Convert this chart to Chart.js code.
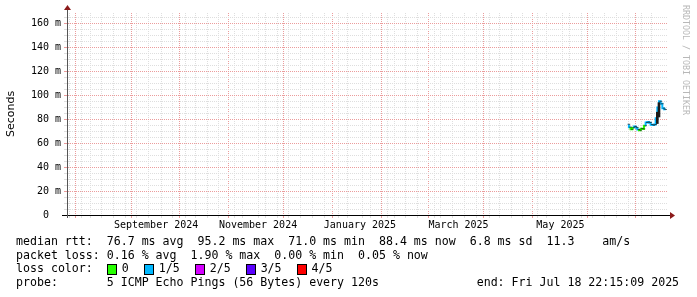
<!DOCTYPE html>
<html>
<head>
<meta charset="utf-8">
<script src="https://cdn.jsdelivr.net/npm/chart.js@4.4.1/dist/chart.umd.min.js"></script>
<style>
  body { margin: 0; background: #fff; }
  #wrap { position: relative; width: 697px; height: 297px; overflow: hidden; }
  #chart { position: absolute; left: 0; top: 0; }
  .legend {
    position: absolute; left: 16px; top: 235px;
    font: 11.6px 'DejaVu Sans Mono', monospace; line-height: 13.7px; color: #000;
  }
  .row { height: 13.7px; display: flex; align-items: center; white-space: pre; }
  .box { display: inline-block; width: 8px; height: 9px; border: 1px solid #000; margin-right: 5px; }
  .lbl { margin-right: 15px; }
  .mark {
    position: absolute; left: 681px; top: 5px;
    writing-mode: vertical-rl; font: 8.3px 'DejaVu Sans Mono', monospace; color: #b8b8b8;
  }
</style>
</head>
<body>
<div id="wrap">
  <canvas id="chart" width="697" height="297"></canvas>
  <div class="legend"><div class="row">median rtt:  76.7 ms avg  95.2 ms max  71.0 ms min  88.4 ms now  6.8 ms sd  11.3    am/s</div><div class="row">packet loss: 0.16 % avg  1.90 % max  0.00 % min  0.05 % now</div><div class="row" id="lossRow"><span>loss color:  </span></div><div class="row">probe:       5 ICMP Echo Pings (56 Bytes) every 120s              end: Fri Jul 18 22:15:09 2025</div></div>
  <div class="mark">RRDTOOL / TOBI OETIKER</div>
</div>
<script>
// ─── DATA ───────────────────────────────────────────────────────
const pingDates = [
  "2025-06-26", "2025-06-27", "2025-06-28", "2025-06-29", "2025-06-30",
  "2025-07-01", "2025-07-02", "2025-07-03", "2025-07-04", "2025-07-05",
  "2025-07-06", "2025-07-07", "2025-07-08", "2025-07-09", "2025-07-10",
  "2025-07-11", "2025-07-12", "2025-07-13", "2025-07-14", "2025-07-15",
  "2025-07-16", "2025-07-17", "2025-07-18",
];
// median rtt, ms
const medianRtt = [
  76.0, 73.5, 71.8, 73.0, 74.0,
  73.0, 71.6, 71.0, 72.2, 72.0,
  74.6, 77.4, 77.8, 77.2, 75.6,
  75.2, 75.8, 81.0, 90.0, 95.2,
  93.0, 89.4, 88.4,
];
// lost pings out of 5
const lossCount = [
  1, 0, 0, 1, 1,
  1, 0, 0, 0, 0,
  1, 1, 1, 1, 1,
  1, 1, 1, 1, 1,
  1, 1, 1,
];
// smoke (spread of the pings), ms
const smokeLow = [
  76.0, 73.5, 71.8, 73.0, 74.0,
  73.0, 71.6, 71.0, 72.2, 72.0,
  74.6, 77.4, 77.8, 77.2, 75.6,
  75.2, 75.8, 76.5, 82.0, 95.2,
  93.0, 89.4, 88.4,
];
const smokeHigh = [
  76.0, 73.5, 71.8, 73.0, 74.0,
  73.0, 71.6, 71.0, 72.2, 72.0,
  74.6, 77.4, 77.8, 77.2, 75.6,
  75.2, 75.8, 86.0, 94.0, 95.2,
  93.0, 89.4, 88.4,
];
const lossLabels = ["0", "1/5", "2/5", "3/5", "4/5"];
const lossColors = ["#26ff00", "#00b8ff", "#d400ff", "#5a00ff", "#ff0000"];
const monthLabels = ["September 2024", "November 2024", "January 2025", "March 2025", "May 2025"];
const labelMonths = ["2024-09", "2024-11", "2025-01", "2025-03", "2025-05"];

// ─── HELPERS ────────────────────────────────────────────────────
const ORIGIN = Date.UTC(2024, 7, 1);
const dayOf = s => (Date.parse(s + "T00:00:00Z") - ORIGIN) / 864e5;

const X_MIN = -7.36, X_MAX = 352.4;
const Y_MAX = 169;

const C = {
  minor: "#dedede",
  major: "#eb9c9c",
  arrow: "#8b1a1a",
  yAxis: "#555555",
};

// x ticks: weekly minor grid, monthly major grid, month labels on the 16th
const xTicks = [];
for (let d = dayOf("2024-07-28"); d <= X_MAX; d += 7) xTicks.push({ value: d, kind: "minor" });
for (let i = 0; i < 12; i++) {
  const d = (Date.UTC(2024, 7 + i, 1) - ORIGIN) / 864e5;
  if (d >= X_MIN && d <= X_MAX) xTicks.push({ value: d, kind: "major" });
}
labelMonths.forEach((m, i) => xTicks.push({ value: dayOf(m + "-16"), kind: "label", text: monthLabels[i] }));
xTicks.sort((a, b) => a.value - b.value);

const yTicks = [];
for (let v = 0; v < Y_MAX; v += 5) yTicks.push({ value: v, kind: v % 20 === 0 ? "major" : "minor" });

const gridColor = ctx => {
  const k = ctx.tick && ctx.tick.kind;
  return k === "major" ? C.major : k === "minor" ? C.minor : "rgba(0,0,0,0)";
};

// loss colour legend row
const lossRow = document.getElementById("lossRow");
lossLabels.forEach((l, i) => {
  const b = document.createElement("span");
  b.className = "box"; b.style.background = lossColors[i];
  const t = document.createElement("span");
  t.className = "lbl"; t.textContent = l;
  lossRow.append(b, t);
});

const axisArrows = {
  id: "axisArrows",
  afterDraw(chart) {
    const { ctx, chartArea: a } = chart;
    const x0 = Math.round(a.left - 0.5) + 0.5;
    const y0 = Math.round(a.bottom - 0.5) + 0.5;
    ctx.save();
    ctx.strokeStyle = C.yAxis; ctx.lineWidth = 1;
    ctx.beginPath(); ctx.moveTo(x0, a.top); ctx.lineTo(x0, a.top - 4); ctx.stroke();
    ctx.beginPath(); ctx.moveTo(x0, a.bottom); ctx.lineTo(x0, a.bottom + 3); ctx.stroke();
    ctx.strokeStyle = "#000";
    ctx.beginPath(); ctx.moveTo(a.left - 5, y0); ctx.lineTo(a.left, y0); ctx.stroke();
    ctx.beginPath(); ctx.moveTo(a.right, y0); ctx.lineTo(a.right + 2, y0); ctx.stroke();
    ctx.fillStyle = C.arrow;
    ctx.beginPath();
    ctx.moveTo(x0, a.top - 8); ctx.lineTo(x0 + 3.5, a.top - 3); ctx.lineTo(x0 - 3.5, a.top - 3);
    ctx.closePath(); ctx.fill();
    ctx.beginPath();
    ctx.moveTo(a.right + 7, y0); ctx.lineTo(a.right + 2, y0 - 3.5); ctx.lineTo(a.right + 2, y0 + 3.5);
    ctx.closePath(); ctx.fill();
    ctx.restore();
  },
};

// ─── CHART ──────────────────────────────────────────────────────
Chart.defaults.font.family = "'DejaVu Sans Mono', monospace";
Chart.defaults.color = "#000";

new Chart(document.getElementById("chart"), {
  type: "line",
  data: {
    datasets: [
      {
        type: "bar",
        label: "smoke",
        data: pingDates.map((d, i) => ({ x: dayOf(d), y: [smokeLow[i], smokeHigh[i]] })),
        backgroundColor: "#1a1a1a",
        barThickness: 2,
        order: 0,
      },
      {
        type: "line",
        label: "median rtt",
        data: pingDates.map((d, i) => ({ x: dayOf(d), y: medianRtt[i] })),
        borderWidth: 2,
        pointRadius: 0,
        stepped: "after",
        borderColor: lossColors[1],
        segment: { borderColor: ctx => lossColors[lossCount[ctx.p0DataIndex]] },
        order: 1,
      },
    ],
  },
  options: {
    responsive: false,
    animation: false,
    devicePixelRatio: 1,
    layout: { padding: { left: 0, right: 29, top: 13, bottom: 0 } },
    plugins: { legend: { display: false }, tooltip: { enabled: false } },
    scales: {
      x: {
        type: "linear",
        min: X_MIN, max: X_MAX,
        offset: false,
        afterBuildTicks: s => { s.ticks = xTicks.map(t => ({ ...t })); },
        afterFit: s => { s.height = 82; },
        ticks: {
          autoSkip: false, maxRotation: 0, minRotation: 0, padding: 1,
          font: { size: 10 },
          callback: (v, i, ticks) => ticks[i].text || "",
        },
        grid: { color: gridColor, tickColor: gridColor, tickLength: 3, lineWidth: 1 },
        border: { color: "#000", width: 1, dash: [1, 1] },
      },
      y: {
        type: "linear",
        min: 0, max: Y_MAX,
        afterBuildTicks: s => { s.ticks = yTicks.map(t => ({ ...t })); },
        afterFit: s => { s.width = 67; },
        ticks: {
          autoSkip: false, padding: 3,
          font: { size: 10 },
          callback: v => (v % 20 === 0 ? (v === 0 ? "0  " : v + " m") : ""),
        },
        title: {
          display: true, text: "Seconds",
          font: { family: "'DejaVu Sans', sans-serif", size: 11 },
          padding: { top: 4.5, bottom: 0 },
        },
        grid: { color: gridColor, tickColor: gridColor, tickLength: 3, lineWidth: 1 },
        border: { color: C.yAxis, width: 1, dash: [1, 1] },
      },
    },
  },
  plugins: [axisArrows],
});
</script>
</body>
</html>
